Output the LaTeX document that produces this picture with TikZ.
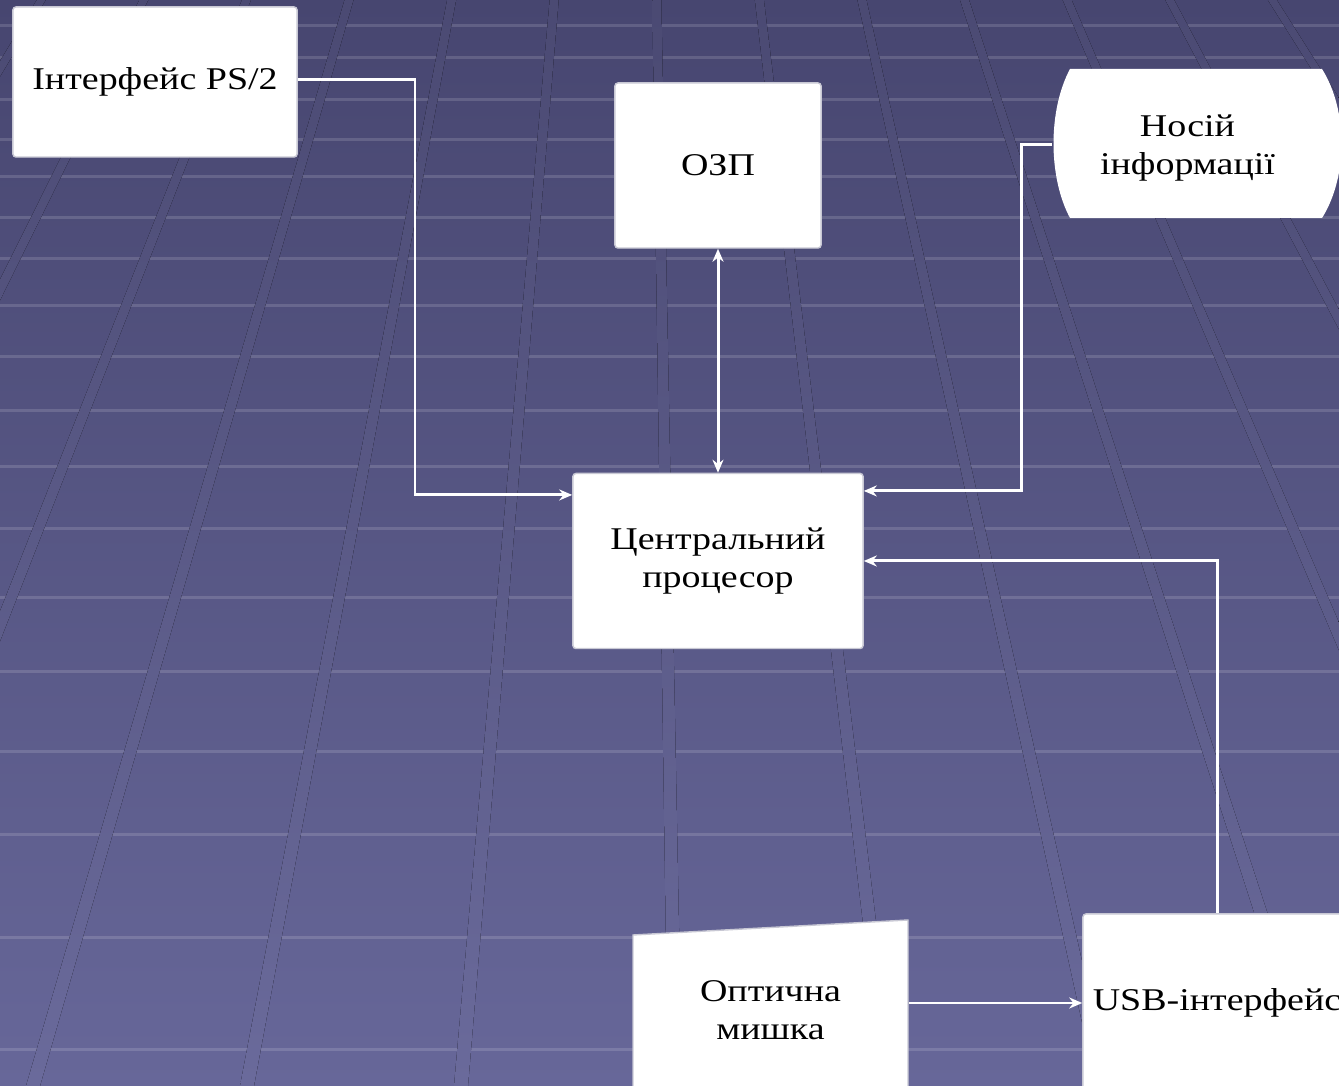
\documentclass[tikz,border=0pt]{standalone}
\usepackage{fontspec}
\setmainfont{Liberation Serif}[FakeStretch=1.2]
\usetikzlibrary{arrows.meta}
\definecolor{SlideTop}{HTML}{474670}
\definecolor{SlideBottom}{HTML}{676799}
\definecolor{BoxEdge}{HTML}{C8C8D4}

\begin{document}
\begin{tikzpicture}[x=0.01cm, y=-0.01cm,
        block/.style={draw=BoxEdge, fill=white, rounded corners=0.3mm, align=center, inner sep=0pt, font=\fontsize{9}{10.8}\selectfont},
        plain/.style={align=center, inner sep=0pt, font=\fontsize{9}{10.8}\selectfont},
        link/.style={draw=white, line width=0.85pt, -{Stealth[length=1.3mm, width=1.1mm]}},
        gridline/.style={white, opacity=0.14, line width=0.03cm}
    ]
        \useasboundingbox (0,0) rectangle (1339,1086);
        \begin{scope}
            \clip (0,0) rectangle (1339,1086);
            % Slide background
            \fill[top color=SlideTop, bottom color=SlideBottom] (0,0) rectangle (1339,1086);
            \foreach \yrow in {26,58,100,140,177,218,259,306,357,411,467,529,598,672,752,835,938,1050}
                \draw[gridline] (0,\yrow) -- (1339,\yrow);
            \foreach \xbase in {-823,-609,...,2173} {
                \pgfmathsetmacro{\xtop}{640+(\xbase-640)*0.4794}
                \fill[top color=SlideTop!98!white, bottom color=SlideBottom!98!white]
                    (\xtop-4.5,0) -- (\xtop+4.5,0) -- (\xbase+7,1086) -- (\xbase-7,1086) -- cycle;
            }

            % Devices
            \node[block, minimum width=2.84cm, minimum height=1.5cm] (ps2) at (155,82) {Інтерфейс PS/2};
            \node[block, minimum width=2.06cm, minimum height=1.65cm] (ram) at (718,165.5) {ОЗП};

            \fill[white] (1070,69) -- (1322,69) .. controls (1348,110) and (1348,177) .. (1322,218)
                -- (1070,218) .. controls (1048,177) and (1048,110) .. (1070,69) -- cycle;
            \node[plain, minimum width=2.69cm, minimum height=1.49cm] (storage) at (1187.5,148) {Носій\\інформації};

            % Processor
            \node[block, minimum width=2.9cm, minimum height=1.75cm] (cpu) at (718,561) {Центральний\\процесор};

            % Mouse and USB
            \fill[white, draw=BoxEdge] (633,935) -- (908,920) -- (908,1100) -- (633,1100) -- cycle;
            \node[plain, minimum width=2.75cm] (mouse) at (770.5,1010) {Оптична\\мишка};
            \node[block, minimum width=2.68cm, minimum height=1.78cm] (usb) at (1217,1003) {USB-інтерфейс};

            % Connections
            \coordinate (ps2turn) at (415,80);
            \coordinate (storeturn) at (1021,145);
            \draw[link] (ps2.east |- ps2turn) -- (ps2turn) |- ([yshift=6.6mm]cpu.west);
            \draw[link, {Stealth[length=1.3mm, width=1.1mm]}-{Stealth[length=1.3mm, width=1.1mm]}] (ram.south) -- (cpu.north);
            \draw[link] (storage.west |- storeturn) -- (storeturn) |- ([yshift=7mm]cpu.east);
            \draw[link] (usb.north) |- (cpu.east);
            \draw[link] (mouse.east |- usb.west) -- (usb.west);
        \end{scope}
    \end{tikzpicture}
\end{document}
